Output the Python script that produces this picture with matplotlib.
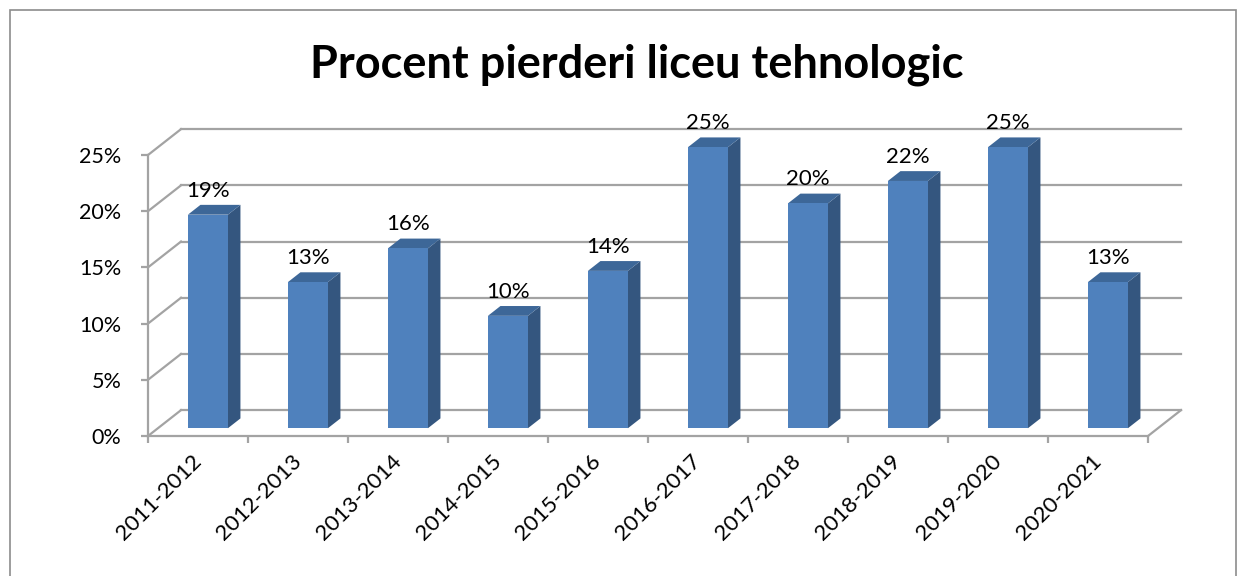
import matplotlib
matplotlib.use("Agg")
import matplotlib.pyplot as plt
from matplotlib.patches import Polygon, Rectangle

years = ["2011-2012", "2012-2013", "2013-2014", "2014-2015", "2015-2016",
         "2016-2017", "2017-2018", "2018-2019", "2019-2020", "2020-2021"]
loss_pct = [19, 13, 16, 10, 14, 25, 20, 22, 25, 13]
y_ticks = [0, 5, 10, 15, 20, 25]
title = "Procent pierderi liceu tehnologic"

# fake 3d look (oblique offsets in data units)
depth_dx = 0.33
depth_dy = 2.3
bar_front = 0.3
bar_depth = 0.38
bar_w = 0.4

c_front = "#4F81BD"
c_side = "#34567F"
c_top = "#3D6798"
c_grid = "#A3A3A3"

plt.rcParams['font.family'] = ['Lato', 'DejaVu Sans']

fig = plt.figure(figsize=(12.42, 5.76), dpi=100)
fig.patches.append(Rectangle((10 / 1242, -0.1), 1226 / 1242, 1.1 - 10 / 576,
                             transform=fig.transFigure, fill=False,
                             ec="#8c8c8c", lw=1.2))

ax = fig.add_axes([148 / 1242, 140 / 576, 1000 / 1242, 281 / 576])
n = len(years)
ax.set_xlim(0, n)
ax.set_ylim(0, 25)

# back wall grid + left wall diagonals
for v in y_ticks:
    ax.plot([depth_dx, n + depth_dx], [v + depth_dy] * 2, color=c_grid, lw=1.6,
            clip_on=False, zorder=1)
    ax.plot([0, depth_dx], [v, v + depth_dy], color=c_grid, lw=1.6,
            clip_on=False, zorder=1)
# floor right edge
ax.plot([n, n + depth_dx], [0, depth_dy], color=c_grid, lw=1.6, clip_on=False, zorder=1)

x0 = [i + 0.5 - bar_w / 2 + bar_front * depth_dx for i in range(n)]
base = bar_front * depth_dy
ddx = bar_depth * depth_dx
ddy = bar_depth * depth_dy

ax.bar(x0, loss_pct, width=bar_w, bottom=base, align='edge', color=c_front,
       clip_on=False, zorder=4)
for xl, v in zip(x0, loss_pct):
    xr = xl + bar_w
    side = Polygon([(xr, base), (xr + ddx, base + ddy), (xr + ddx, base + v + ddy), (xr, base + v)],
                   closed=True, fc=c_side, ec='none', clip_on=False, zorder=3)
    top = Polygon([(xl, base + v), (xr, base + v), (xr + ddx, base + v + ddy), (xl + ddx, base + v + ddy)],
                  closed=True, fc=c_top, ec='none', clip_on=False, zorder=3)
    ax.add_patch(side)
    ax.add_patch(top)
    ax.annotate(f"{v}%", (xl + bar_w / 2, base + v + ddy), xytext=(0, 6),
                textcoords='offset points', ha='center', va='baseline',
                fontsize=16, annotation_clip=False)

for s in ['top', 'right']:
    ax.spines[s].set_visible(False)
for s in ['left', 'bottom']:
    ax.spines[s].set_color(c_grid)
    ax.spines[s].set_linewidth(1.6)

ax.set_yticks(y_ticks)
ax.set_yticklabels([f"{v}%" for v in y_ticks])
ax.tick_params(axis='y', length=5, width=1.6, color=c_grid, pad=14, labelsize=15.5)

ax.set_xticks(range(n + 1))
ax.set_xticklabels([])
ax.set_xticks([i + 0.5 for i in range(n)], minor=True)
ax.set_xticklabels(years, minor=True, rotation=45, ha='right', va='center',
                   rotation_mode='anchor', fontsize=16)
ax.tick_params(axis='x', which='major', length=5, width=1.6, color=c_grid)
ax.tick_params(axis='x', which='minor', length=0, pad=16)

fig.text(637 / 1242, 1 - 77 / 576, title, ha='center', va='baseline',
         fontsize=32.5, fontweight='bold')

fig.savefig("out.png", dpi=100)
